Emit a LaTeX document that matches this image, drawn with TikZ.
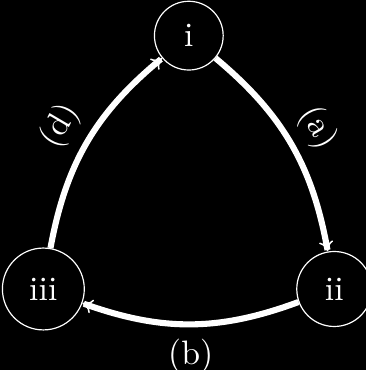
\documentclass[tikz,border=0pt]{standalone}
\usepackage{tikz}
\usetikzlibrary{arrows.meta}
\definecolor{CycBack}{HTML}{000000}
\definecolor{CycLine}{HTML}{FFFFFF}
\tikzset{
  stagenode/.style={circle,draw=CycLine,line width=0.35pt,text=CycLine,inner sep=4.8pt},
  cyclearrow/.style={-{To[line width=0.45pt,length=3pt,width=4.2pt]},line width=1.8pt,draw=CycLine,bend left=20},
  cyclelabel/.style={midway,sloped,text=CycLine}
}

\begin{document}
\begin{tikzpicture}[x=0.01cm,y=0.01cm]
\fill[CycBack] (0,0) rectangle (380,384);
\node[stagenode] (i) at (196,347) {i};
\node[stagenode] (ii) at (347,84) {ii};
\node[stagenode] (iii) at (45,84) {iii};
\draw[cyclearrow] (i) to node[cyclelabel,above] {(a)} (ii);
\draw[cyclearrow] (ii) to node[cyclelabel,below] {(b)} (iii);
\draw[cyclearrow] (iii) to node[cyclelabel,above] {(d)} (i);
\end{tikzpicture}
\end{document}
